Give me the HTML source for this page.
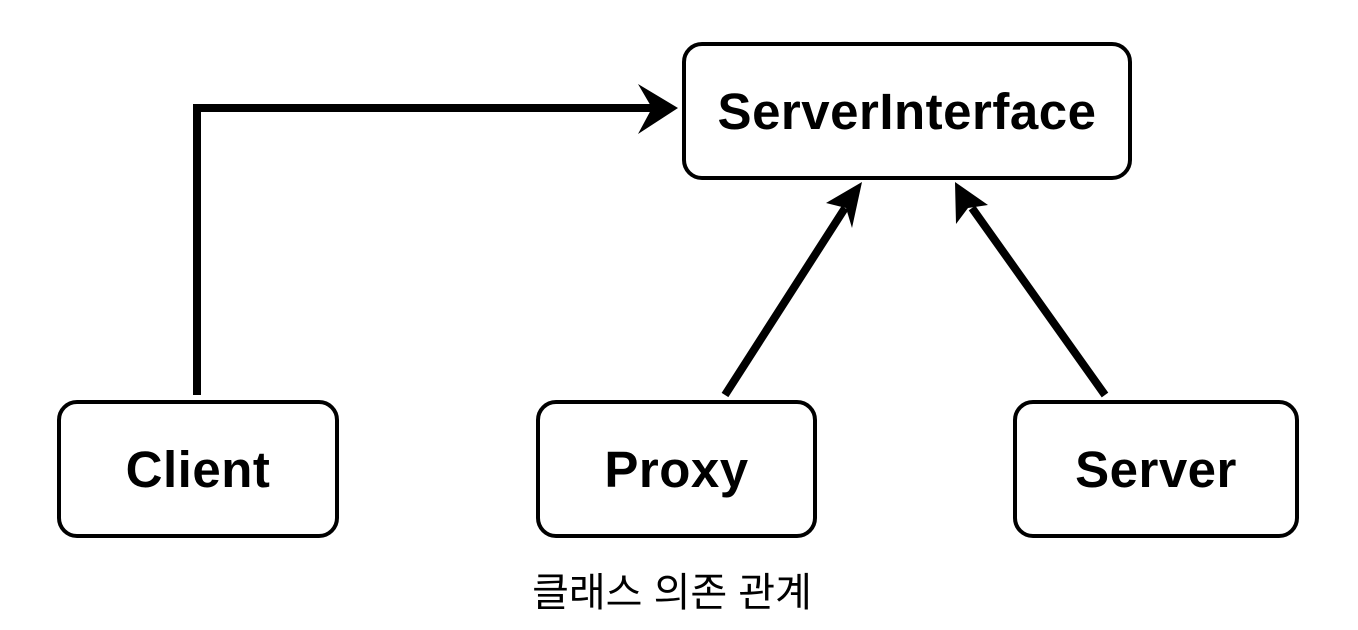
<!DOCTYPE html>
<html><head><meta charset="utf-8"><style>
html,body{margin:0;padding:0;background:#fff;}
body{width:1358px;height:630px;position:relative;overflow:hidden;font-family:"Liberation Sans","Noto Sans CJK KR",sans-serif;}
.b{position:absolute;box-sizing:border-box;border:4px solid #000;border-radius:20px;display:flex;align-items:center;justify-content:center;font-weight:bold;font-size:51px;letter-spacing:0.5px;color:#000;}
.cap{position:absolute;left:472px;width:400px;top:560px;text-align:center;font-size:40px;color:#000;}
svg{position:absolute;left:0;top:0;}
</style></head><body>
<svg width="1358" height="630">
<g stroke="#000" stroke-width="8" fill="none">
<polyline points="197,395 197,108 655,108"/>
<line x1="725" y1="395" x2="845" y2="208"/>
<line x1="1105" y1="395" x2="972" y2="208"/>
</g>
<g fill="#000">
<polygon points="678,108 638,84 652,108 638,134"/>
<polygon points="862,182 826,203 846,208 852,228"/>
<polygon points="955,182 956,224 968,208 988,205"/>
</g>
</svg>
<div class="b" style="left:682px;top:42px;width:450px;height:138px;">ServerInterface</div>
<div class="b" style="left:57px;top:400px;width:282px;height:138px;">Client</div>
<div class="b" style="left:536px;top:400px;width:281px;height:138px;">Proxy</div>
<div class="b" style="left:1013px;top:400px;width:286px;height:138px;">Server</div>
<div class="cap">클래스 의존 관계</div>
</body></html>
